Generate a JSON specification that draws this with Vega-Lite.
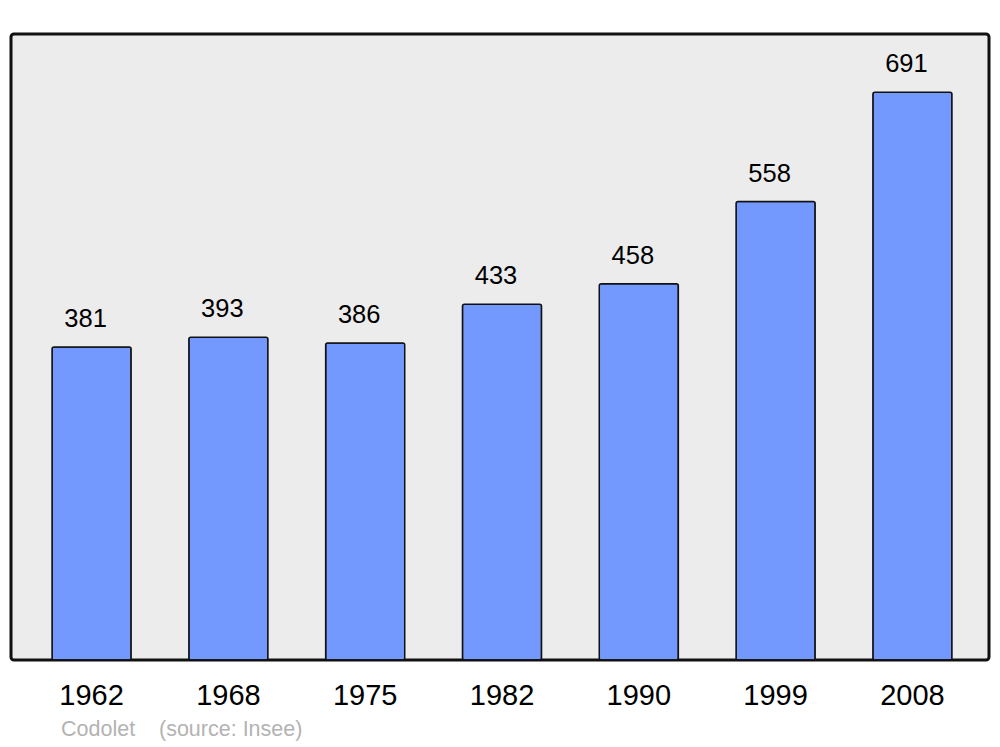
{
  "$schema": "https://vega.github.io/schema/vega-lite/v6.json",
  "width": 978,
  "height": 626,
  "autosize": "none",
  "padding": {"left": 11, "top": 34, "right": 11, "bottom": 87},
  "background": "white",
  "config": {
    "font": "Liberation Sans",
    "view": {"fill": "#ececec", "stroke": "#111111", "strokeWidth": 3, "cornerRadius": 3}
  },
  "title": {
    "text": "Codolet\u00a0\u00a0\u00a0\u00a0(source: Insee)",
    "orient": "bottom",
    "anchor": "start",
    "frame": "bounds",
    "fontSize": 21.5,
    "fontWeight": "normal",
    "color": "#b3b3b3",
    "font": "Liberation Sans",
    "dx": 50,
    "offset": 9
  },
  "data": {
    "values": [
      {"year": "1962", "population": 381},
      {"year": "1968", "population": 393},
      {"year": "1975", "population": 386},
      {"year": "1982", "population": 433},
      {"year": "1990", "population": 458},
      {"year": "1999", "population": 558},
      {"year": "2008", "population": 691}
    ]
  },
  "encoding": {
    "x": {
      "field": "year",
      "type": "ordinal",
      "sort": null,
      "scale": {"paddingInner": 0.422, "paddingOuter": 0.3, "range": [0, 982]},
      "axis": {
        "title": null,
        "domain": false,
        "ticks": false,
        "labelAngle": 0,
        "labelFontSize": 29,
        "labelColor": "#000000",
        "labelPadding": 21,
        "labelFont": "Liberation Sans"
      }
    },
    "y": {
      "field": "population",
      "type": "quantitative",
      "scale": {"domain": [0, 762], "nice": false, "zero": true},
      "axis": null
    }
  },
  "layer": [
    {
      "mark": {"type": "bar", "fill": "#7399ff", "stroke": "#111111", "strokeWidth": 1.5, "cornerRadius": 2}
    },
    {
      "mark": {"type": "text", "baseline": "middle", "dy": -28, "dx": -6, "fontSize": 25.5, "color": "#000000", "font": "Liberation Sans"},
      "encoding": {"text": {"field": "population", "type": "quantitative"}}
    }
  ]
}
